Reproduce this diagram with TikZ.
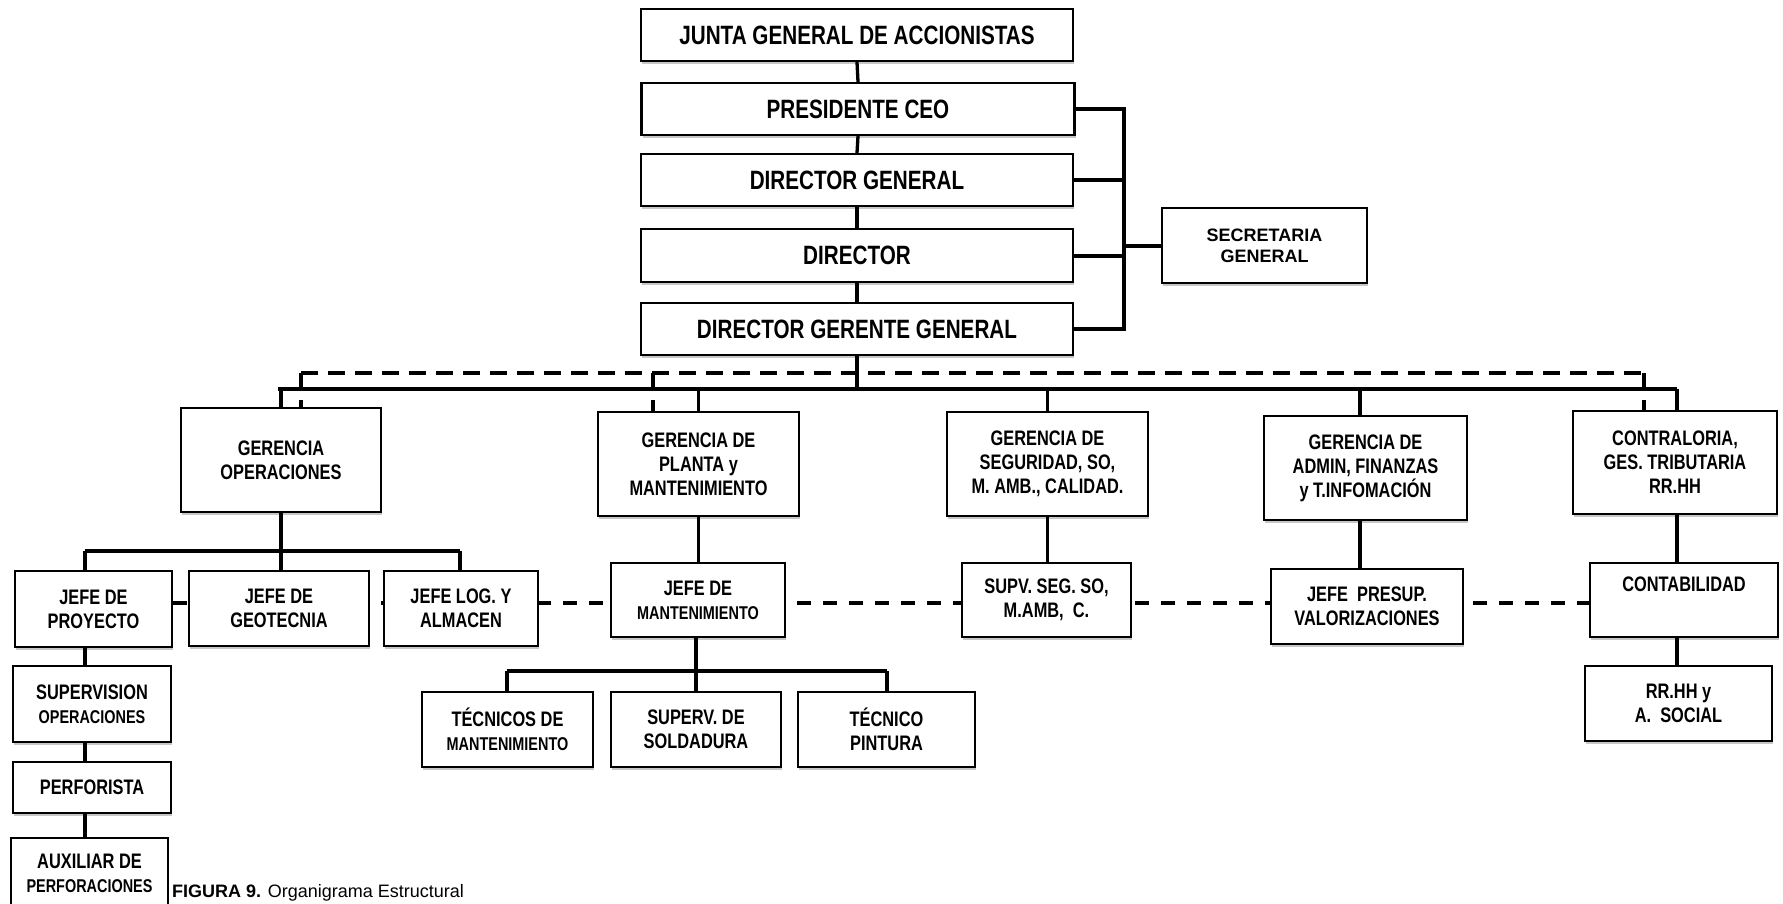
\documentclass[tikz,border=0pt]{standalone}
\usepackage{fontspec}
\setmainfont{Liberation Sans}
\newfontfamily\cond{Liberation Sans}[FakeStretch=0.78]
\usetikzlibrary{shadows}
\pgfdeclarelayer{background}
\pgfsetlayers{background,main}
\tikzset{
  box/.style={draw=black, line width=2.3pt, fill=white, inner sep=0pt, align=center,
    drop shadow={shadow xshift=1pt, shadow yshift=-3pt, fill=black, opacity=0.22}},
  topfont/.style={font=\cond\bfseries\fontsize{26.5}{29}\selectfont},
  midfont/.style={font=\cond\bfseries\fontsize{21}{24}\selectfont},
  secfont/.style={font=\bfseries\fontsize{18}{21}\selectfont},
  conn/.style={line width=3.3pt},
  dashbus/.style={line width=3.5pt, dash pattern=on 17pt off 10pt},
  dashstub/.style={line width=3.3pt, dash pattern=on 16pt off 11pt on 30pt},
  dashrow/.style={line width=4pt, dash pattern=on 14pt off 12pt}
}
\newcommand{\smalltxt}[1]{{\fontsize{18.5}{21}\selectfont #1}}
\begin{document}
\begin{tikzpicture}[x=1pt,y=-1pt]
\useasboundingbox (0,0) rectangle (1783,903);
\clip (0,0) rectangle (1783,903);
% top stack
\node[box,topfont,minimum width=432pt,minimum height=52pt] (junta) at (857,35) {JUNTA GENERAL DE ACCIONISTAS};
\node[box,topfont,minimum width=433pt,minimum height=52pt] (pres) at (858,109) {PRESIDENTE CEO};
\node[box,topfont,minimum width=432pt,minimum height=52pt] (dirgen) at (857,180) {DIRECTOR GENERAL};
\node[box,topfont,minimum width=432pt,minimum height=53pt] (dir) at (857,255.5) {DIRECTOR};
\node[box,topfont,minimum width=432pt,minimum height=52pt] (dgg) at (857,329) {DIRECTOR GERENTE GENERAL};
\node[box,secfont,minimum width=205pt,minimum height=75pt] (sec) at (1264.5,245.5) {SECRETARIA\\GENERAL};
% gerencias
\node[box,midfont,minimum width=200pt,minimum height=104pt] (gop) at (281,460) {GERENCIA\\OPERACIONES};
\node[box,midfont,minimum width=201pt,minimum height=104pt] (gpl) at (698.5,464) {GERENCIA DE\\PLANTA y\\MANTENIMIENTO};
\node[box,midfont,minimum width=201pt,minimum height=104pt] (gseg) at (1047.5,464) {GERENCIA DE\\SEGURIDAD, SO,\\M. AMB., CALIDAD.};
\node[box,midfont,minimum width=203pt,minimum height=104pt] (gadm) at (1365.5,468) {GERENCIA DE\\ADMIN, FINANZAS\\y T.INFOMACIÓN};
\node[box,midfont,minimum width=204pt,minimum height=103pt] (gcon) at (1675,462.5) {CONTRALORIA,\\GES. TRIBUTARIA\\RR.HH};
% jefes
\node[box,midfont,minimum width=157pt,minimum height=76pt] (jproy) at (93.5,609) {JEFE DE\\PROYECTO};
\node[box,midfont,minimum width=180pt,minimum height=75pt] (jgeo) at (279,608.5) {JEFE DE\\GEOTECNIA};
\node[box,midfont,minimum width=154pt,minimum height=75pt] (jlog) at (461,608.5) {JEFE LOG. Y\\ALMACEN};
\node[box,midfont,minimum width=174pt,minimum height=74pt] (jman) at (698,600) {JEFE DE\\\smalltxt{MANTENIMIENTO}};
\node[box,midfont,minimum width=169pt,minimum height=74pt] (supv) at (1046.5,600) {SUPV. SEG. SO,\\M.AMB,\ \ C.};
\node[box,midfont,minimum width=192pt,minimum height=75pt] (jpre) at (1367,606.5) {JEFE\ \ PRESUP.\\VALORIZACIONES};
\node[box,midfont,minimum width=188pt,minimum height=74pt] (conta) at (1684,600) {CONTABILIDAD\\\strut};
% left column
\node[box,midfont,minimum width=158pt,minimum height=76pt] (supop) at (92,704) {SUPERVISION\\\smalltxt{OPERACIONES}};
\node[box,midfont,minimum width=158pt,minimum height=51pt] (perf) at (92,787.5) {PERFORISTA};
\node[box,midfont,minimum width=157pt,minimum height=70pt] (aux) at (89.5,873) {AUXILIAR DE\\\smalltxt{PERFORACIONES}};
% tecnicos
\node[box,midfont,minimum width=171pt,minimum height=75pt] (tman) at (507.5,729.5) {TÉCNICOS DE\\\smalltxt{MANTENIMIENTO}};
\node[box,midfont,minimum width=170pt,minimum height=75pt] (tsol) at (696,729.5) {SUPERV. DE\\SOLDADURA};
\node[box,midfont,minimum width=177pt,minimum height=75pt] (tpin) at (886.5,729.5) {TÉCNICO\\PINTURA};
% right column
\node[box,midfont,minimum width=187pt,minimum height=75pt] (rrhh) at (1678.5,703.5) {RR.HH y\\A.\ \ SOCIAL};
% caption
\node[anchor=base west,inner sep=0pt,font=\fontsize{18}{22}\selectfont] (cap) at (172,897) {\textbf{FIGURA 9.} Organigrama Estructural};
% coordinates
\coordinate (busx) at (1124,0);
\coordinate (b1) at (278,389);
\coordinate (b2) at (1677,389);
\coordinate (d1) at (301,373);
\coordinate (d2) at (653,373);
\coordinate (d3) at (1644,373);
\coordinate (s1) at (85,551);
\coordinate (s3) at (460,551);
\coordinate (t1) at (507,671);
\coordinate (t3) at (887,671);
\coordinate (rc) at (1677,0);
\coordinate (ac) at (1360,0);
\coordinate (rowy) at (0,603);
\begin{pgfonlayer}{background}
% top stack
\draw[conn] (junta.south) -- (pres.north);
\draw[conn] (pres.south) -- (dirgen.north);
\draw[conn] (dirgen.south) -- (dir.north);
\draw[conn] (dir.south) -- (dgg.north);
\draw[line width=4pt] (pres.east) -- (pres.east -| busx) -- (dgg.east -| busx) -- (dgg.east);
\draw[line width=4pt] (dirgen.east) -- (dirgen.east -| busx);
\draw[line width=4pt] (dir.east) -- (dir.east -| busx);
\draw[line width=4pt] (sec.west -| busx) -- (sec.west);
% main bus
\draw[conn] (dgg.south) -- (dgg.south |- b1);
\draw[conn] (b1) -- (b2);
\draw[dashbus] (d1) -- (d3);
\draw[dashstub] (d1) -- (d1 |- gop.north);
\draw[dashstub] (d2) -- (d2 |- gpl.north);
\draw[dashstub] (d3) -- (d3 |- gcon.north);
\draw[conn] (gop.north |- b1) -- (gop.north);
\draw[conn] (gpl.north |- b1) -- (gpl.north);
\draw[conn] (gseg.north |- b1) -- (gseg.north);
\draw[conn] (ac |- b1) -- (ac |- gadm.north);
\draw[conn] (b2) -- (rc |- gcon.north);
% operaciones
\draw[conn] (gop.south) -- (gop.south |- jgeo.north);
\draw[conn] (s1) -- (s3);
\draw[conn] (s1) -- (s1 |- jproy.north);
\draw[conn] (s3) -- (s3 |- jlog.north);
\draw[conn] (s1 |- jproy.south) -- (s1 |- supop.north);
\draw[conn] (s1 |- supop.south) -- (s1 |- perf.north);
\draw[conn] (s1 |- perf.south) -- (s1 |- aux.north);
% other verticals
\draw[conn] (gpl.south) -- (gpl.south |- jman.north);
\draw[conn] (gseg.south) -- (gseg.south |- supv.north);
\draw[conn] (ac |- gadm.south) -- (ac |- jpre.north);
\draw[conn] (rc |- gcon.south) -- (rc |- conta.north);
\draw[conn] (rc |- conta.south) -- (rc |- rrhh.north);
% tecnicos
\draw[conn] (tsol.north |- jman.south) -- (tsol.north);
\draw[conn] (t1) -- (t3);
\draw[conn] (t1) -- (t1 |- tman.north);
\draw[conn] (t3) -- (t3 |- tpin.north);
% dashed row
\draw[dashrow] (jproy.east |- rowy) -- (conta.west |- rowy);
\end{pgfonlayer}
\end{tikzpicture}
\end{document}
